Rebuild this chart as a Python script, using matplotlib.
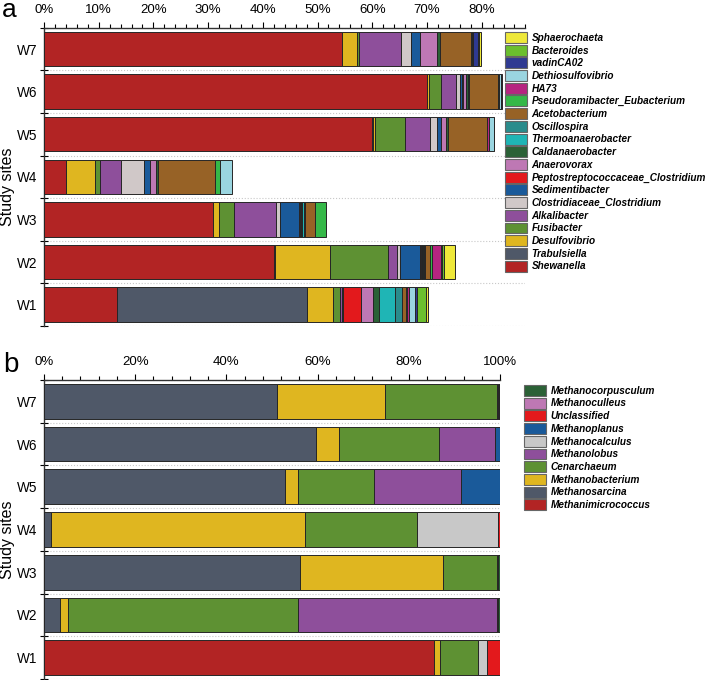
import numpy as np
import matplotlib
matplotlib.use("Agg")
import matplotlib.pyplot as plt
from matplotlib.patches import Patch
from matplotlib.ticker import MultipleLocator, FuncFormatter

plt.rcParams['font.family'] = ['Liberation Sans', 'DejaVu Sans']

sites = ["W1", "W2", "W3", "W4", "W5", "W6", "W7"]

# panel a: bacterial genera (stacking order, left to right)
bact_genera = ["Shewanella", "Trabulsiella", "Desulfovibrio", "Fusibacter", "Alkalibacter",
               "Clostridiaceae_Clostridium", "Sedimentibacter", "Peptostreptococcaceae_Clostridium",
               "Anaerovorax", "Caldanaerobacter", "Thermoanaerobacter", "Oscillospira",
               "Acetobacterium", "Pseudoramibacter_Eubacterium", "HA73", "Dethiosulfovibrio",
               "vadinCA02", "Bacteroides", "Sphaerochaeta"]
bact_colors = ["#B22424", "#4F5868", "#DFB620", "#5E9133", "#8E4F9B",
               "#D0C8C8", "#1A5A9A", "#E3191C", "#BE78B4", "#2B6136",
               "#1FB5B5", "#2A8C8C", "#976226", "#35B848", "#B62580",
               "#9AD5E0", "#2F3A92", "#6BBF2E", "#EEE83A"]

# relative abundance (%) per site, same order as bact_genera
a_w1 = [13.4, 34.75, 4.6, 1.35, 0.3, 0.0, 0.2, 3.35, 2.1, 1.2, 2.9, 1.35, 0.7, 0.1, 0.35, 1.2, 0.35, 1.7, 0.3]
a_w2 = [42.05, 0.15, 10.1, 10.6, 1.6, 0.65, 3.5, 0.2, 0.3, 0.2, 0.1, 0.2, 0.9, 0.35, 1.7, 0.1, 0.1, 0.4, 1.95]
a_w3 = [30.95, 0.0, 1.0, 2.7, 7.8, 0.7, 3.5, 0.1, 0.3, 0.2, 0.3, 0.2, 1.8, 1.95, 0.0, 0.0, 0.0, 0.0, 0.0]
a_w4 = [4.0, 0.0, 5.4, 0.85, 3.9, 4.15, 1.1, 0.0, 1.1, 0.3, 0.0, 0.0, 10.5, 0.85, 0.0, 2.3, 0.0, 0.0, 0.0]
a_w5 = [60.0, 0.1, 0.4, 5.5, 4.5, 1.4, 0.7, 0.0, 0.9, 0.3, 0.0, 0.0, 7.1, 0.1, 0.3, 0.9, 0.1, 0.0, 0.0]
a_w6 = [70.0, 0.0, 0.4, 2.2, 2.7, 0.7, 0.5, 0.1, 0.6, 0.3, 0.1, 0.1, 5.2, 0.2, 0.1, 0.4, 0.1, 0.0, 0.0]
a_w7 = [54.5, 0.0, 2.8, 0.2, 7.8, 1.8, 1.6, 0.0, 3.1, 0.5, 0.0, 0.0, 5.7, 0.3, 0.2, 0.0, 0.9, 0.2, 0.2]

# panel b: archaeal genera
arch_genera = ["Methanimicrococcus", "Methanosarcina", "Methanobacterium", "Cenarchaeum",
               "Methanolobus", "Methanocalculus", "Methanoplanus", "Unclassified",
               "Methanoculleus", "Methanocorpusculum"]
arch_colors = ["#B22424", "#4F5868", "#DFB620", "#5E9133", "#8E4F9B",
               "#C8C8C8", "#1A5A9A", "#E3191C", "#BE78B4", "#2B6136"]

b_w1 = [85.5, 0.0, 1.45, 8.25, 0.0, 2.0, 0.0, 2.8, 0.0, 0.0]
b_w2 = [0.0, 3.5, 1.7, 50.55, 43.55, 0.0, 0.0, 0.3, 0.0, 0.4]
b_w3 = [0.0, 56.2, 31.3, 11.85, 0.3, 0.0, 0.0, 0.0, 0.0, 0.35]
b_w4 = [0.0, 1.45, 55.75, 24.7, 0.0, 17.7, 0.0, 0.4, 0.0, 0.0]
b_w5 = [0.0, 52.9, 2.8, 16.75, 18.9, 0.0, 8.55, 0.0, 0.0, 0.1]
b_w6 = [0.0, 59.7, 5.05, 21.95, 12.3, 0.0, 1.0, 0.0, 0.0, 0.0]
b_w7 = [0.0, 51.0, 23.8, 24.5, 0.3, 0.0, 0.0, 0.0, 0.2, 0.2]

a_data = np.array([a_w1, a_w2, a_w3, a_w4, a_w5, a_w6, a_w7])
b_data = np.array([b_w1, b_w2, b_w3, b_w4, b_w5, b_w6, b_w7])

fig = plt.figure(figsize=(7.08, 6.8), dpi=100)
ax_a = fig.add_axes([44 / 708, 1 - 326 / 680, 481.4 / 708, 298.3 / 680])
ax_b = fig.add_axes([44 / 708, 1 - 679 / 680, 456 / 708, 299 / 680])


def stacked(ax, data, colors, xmax, major, minor):
    y = np.arange(len(sites))
    for i in range(len(sites)):
        left = 0.0
        for j in range(data.shape[1]):
            v = data[i, j]
            if v > 0:
                ax.barh(y[i], v, left=left, height=0.81, color=colors[j],
                        edgecolor="#262626", linewidth=0.7, zorder=3)
            left += v
    ax.set_xlim(0, xmax)
    ax.set_ylim(-0.5, len(sites) - 0.5)
    ax.xaxis.tick_top()
    ax.xaxis.set_major_locator(MultipleLocator(major))
    ax.xaxis.set_minor_locator(MultipleLocator(minor))
    ax.xaxis.set_major_formatter(FuncFormatter(lambda v, p: "%d%%" % round(v)))
    ax.tick_params(axis="x", which="major", length=4.5, width=0.8, pad=4, labelsize=9.5)
    ax.tick_params(axis="x", which="minor", length=2.7, width=0.8)
    ax.set_yticks(y)
    ax.set_yticklabels(sites)
    ax.set_yticks(np.arange(-0.5, len(sites), 1.0), minor=True)
    ax.tick_params(axis="y", which="major", length=0, pad=5, labelsize=9.8)
    ax.tick_params(axis="y", which="minor", direction="inout", length=6, width=0.8)
    ax.grid(axis="y", which="minor", linestyle=":", color="#c8c8c8", linewidth=0.8, zorder=0)
    for s in ["right", "bottom"]:
        ax.spines[s].set_visible(False)
    ax.spines["left"].set_color("#333333")
    ax.spines["top"].set_color("#333333")
    ax.spines["left"].set_linewidth(1.0)
    ax.spines["top"].set_linewidth(1.0)


stacked(ax_a, a_data, bact_colors, 88, 10, 2)
stacked(ax_b, b_data, arch_colors, 100, 20, 4)

leg_font = {"weight": "bold", "style": "italic", "size": 7.2}

# legends, top entry = last genus in the stack
h_a = [Patch(facecolor=c, edgecolor="#666666", linewidth=0.8) for c in bact_colors][::-1]
leg_a = fig.legend(h_a, bact_genera[::-1], loc="upper left", bbox_to_anchor=(505 / 708, 1 - 32 / 680),
                   frameon=True, handlelength=2.2, handleheight=1.3,
                   handletextpad=0.45, labelspacing=0.18, borderpad=0.0, borderaxespad=0.0,
                   prop=leg_font)
leg_a.get_frame().set_facecolor("white")
leg_a.get_frame().set_edgecolor("none")

h_b = [Patch(facecolor=c, edgecolor="#666666", linewidth=0.8) for c in arch_colors][::-1]
leg_b = fig.legend(h_b, arch_genera[::-1], loc="upper left", bbox_to_anchor=(524 / 708, 1 - 385 / 680),
                   frameon=False, handlelength=2.2, handleheight=1.3,
                   handletextpad=0.45, labelspacing=0.18, borderpad=0.0, borderaxespad=0.0,
                   prop=leg_font)

fig.text(2 / 708, 1 - 17 / 680, "a", fontsize=19)
fig.text(3 / 708, 1 - 372 / 680, "b", fontsize=20)
fig.text(8 / 708, 1 - 187 / 680, "Study sites", rotation=90, fontsize=11.5, ha="center", va="center")
fig.text(8 / 708, 1 - 540 / 680, "Study sites", rotation=90, fontsize=11.5, ha="center", va="center")

fig.savefig("out.png", dpi=100)
